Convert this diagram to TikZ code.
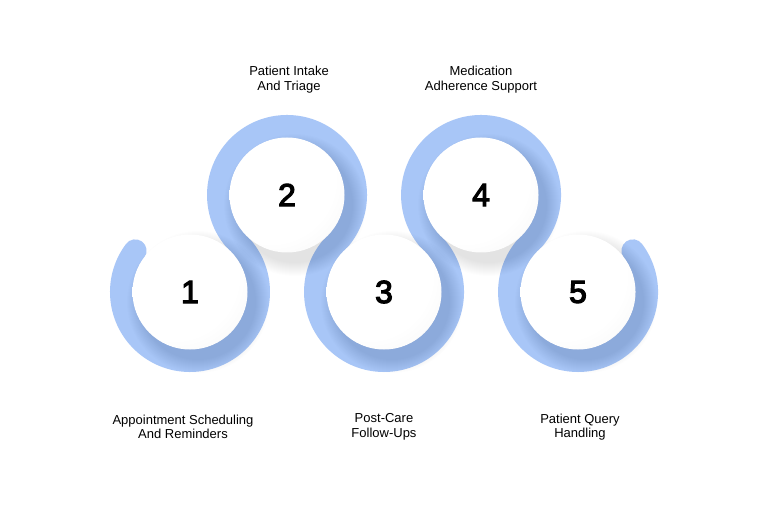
\documentclass[tikz,border=0pt]{standalone}
\usepackage{fontspec}
\setmainfont{Liberation Sans}
\newfontfamily\chiffre[FakeBold=3.5]{Liberation Sans}
\usetikzlibrary{positioning}
\definecolor{bande}{RGB}{168,198,247}
\pgfdeclareradialshading{boule}{\pgfpoint{-12bp}{12bp}}{color(0bp)=(white); color(28bp)=(white); color(50bp)=(black!6); color(64bp)=(black!16); color(70bp)=(black!18)}
\begin{document}
\begin{tikzpicture}[x=1pt, y=1pt,
    boule/.style={circle, minimum size=115pt, inner sep=0pt, shade, shading=boule, font=\fontsize{32}{32}\chiffre},
    etiquette/.style={align=center, font=\fontsize{13}{14.5}\selectfont}]
        \useasboundingbox (0,0) rectangle (776,504);
        \fill[white] (0,0) rectangle (776,504);

        % Centres des boules
        \coordinate (c1) at (190,212);
        \coordinate (c2) at (287,309);
        \coordinate (c3) at (384,212);
        \coordinate (c4) at (481,309);
        \coordinate (c5) at (578,212);

        % Bande en serpentin
        \draw[bande, line width=22.8pt, line cap=round] (c1) ++(143:68.6)
            arc[start angle=143, end angle=405, radius=68.6]
            arc[start angle=225, end angle=-45, radius=68.6]
            arc[start angle=135, end angle=405, radius=68.6]
            arc[start angle=225, end angle=-45, radius=68.6]
            arc[start angle=135, end angle=397, radius=68.6];

        % Ombres douces
        \foreach \i in {1,...,5}
            \foreach \k in {0,...,13}
                \fill[black, opacity=0.009] ([xshift=8pt, yshift=-10pt]c\i) circle (71-\k);

        % Boules
        \foreach \i in {1,...,5}
            \node[boule] (b\i) at (c\i) {\i};

        % Etiquettes
        \node[etiquette] (t1) at (183,77) {Appointment Scheduling\\And Reminders};
        \node[etiquette] (t2) at (289,424.5) {Patient Intake\\And Triage};
        \node[etiquette] (t3) at (384,77) {Post-Care\\Follow-Ups};
        \node[etiquette] (t4) at (481,424.5) {Medication\\Adherence Support};
        \node[etiquette] (t5) at (580,77) {Patient Query\\Handling};
    \end{tikzpicture}
\end{document}
